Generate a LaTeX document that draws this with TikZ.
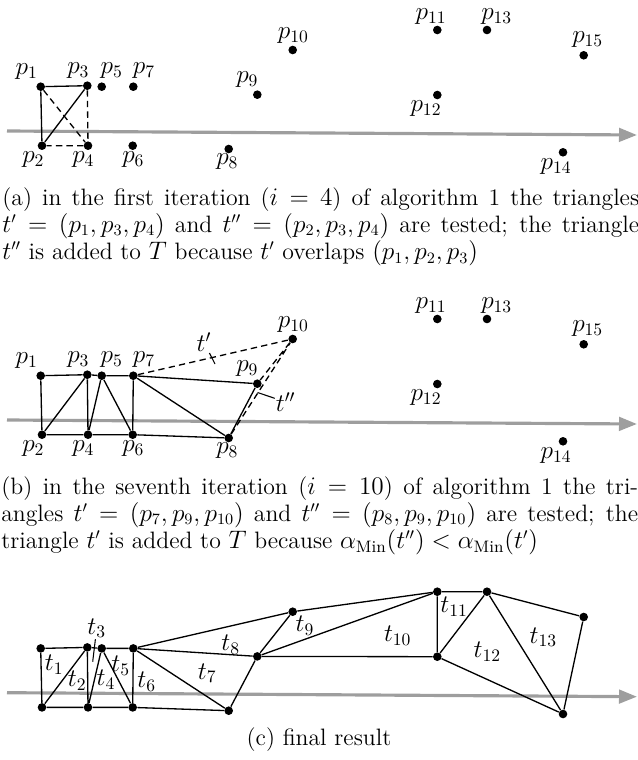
\documentclass[tikz,border=0pt]{standalone}
\usepackage{amsmath,amssymb}
\usepackage{tikz}
\usetikzlibrary{arrows.meta}

% point coordinates (pixels of the first panel)
\def\ptcoords{1/40.7/86.7, 2/42/145.7, 3/87.3/85.7, 4/88/145.7, 5/101.7/86.7,
  6/132.7/145.7, 7/133.3/86.7, 8/228.7/149, 9/257.3/94.7, 10/292.7/50,
  11/437.3/30, 12/437.3/95, 13/487/30, 14/563/152.3, 15/583.7/55.3}
% label offsets
\def\lbloffsets{1/-14/-15, 2/-8.7/14.3, 3/-9/-15, 4/-4.7/14.3, 5/10/-16,
  6/0.6/14.3, 7/10.7/-16, 8/-1.4/12.7, 9/-10/-14.7, 10/0.6/-14,
  11/-6.3/-13.3, 12/-11.3/13.3, 13/9.7/-13.3, 14/-7/14.4, 15/4/-16}

\newcommand{\pointset}[1]{%
  \foreach \i/\px/\py in \ptcoords
    \node[pt] (#1\i) at (\px,\py) {};
}
\newcommand{\pointlabels}[1]{%
  \foreach \i/\dx/\dy in \lbloffsets
    \node[plabel] (#1l\i) at ([shift={(\dx,\dy)}]#1\i) {$p_{\i}$};
}

\begin{document}
\begin{tikzpicture}[
  x=0.02cm, y=-0.02cm,
  pt/.style={circle, fill=black, inner sep=0pt, minimum size=0.172cm},
  plabel/.style={inner sep=0.5pt, font=\fontsize{14.5}{17}\selectfont},
  edge/.style={line width=0.75pt, black},
  dashedge/.style={line width=0.75pt, black, dash pattern=on 3.6pt off 2.4pt},
  sweep/.style={line width=1.8pt, black!38,
                -{Triangle[length=0.36cm, width=0.27cm]}},
  pinline/.style={line width=0.6pt, black},
  capt/.style={inner sep=0pt, anchor=base west, font=\fontsize{13.5}{13.8}\selectfont}
]
\useasboundingbox (0,0) rectangle (637,760);

% ===== (a) first iteration =====
\begin{scope}
  \coordinate (aL) at (7,131);
  \coordinate (aR) at (637,135);
  \draw[sweep] (aL) -- (aR);
  \pointset{a}
  \pointlabels{a}
  \draw[edge] (a1) -- (a3) -- (a2) -- (a1);
  \draw[dashedge] (a1) -- (a4) (a3) -- (a4) -- (a2);
\end{scope}
\node[capt] (capa) at (2,205.5) {\parbox[t]{12.74cm}{(a) in the first iteration
  ($i=4$) of algorithm 1 the triangles\linebreak $t'=(p_1,p_3,p_4)$ and
  $t''=(p_2,p_3,p_4)$ are tested; the triangle\linebreak $t''$ is added to $T$
  because $t'$ overlaps $(p_1,p_2,p_3)$}};

% ===== (b) seventh iteration =====
\begin{scope}[shift={(0,289)}]
  \coordinate (bL) at (7,131);
  \coordinate (bR) at (637,135);
  \draw[sweep] (bL) -- (bR);
  \pointset{b}
  \pointlabels{b}
  \draw[edge] (b1) -- (b3) -- (b5) -- (b7) -- (b9) -- (b8) -- (b6) -- (b4)
    -- (b2) -- (b1);
  \draw[edge] (b2) -- (b3) -- (b4) -- (b5) -- (b6) -- (b7) -- (b8);
  \draw[dashedge] (b7) -- (b10) -- (b9) (b8) -- (b10);
  \node[plabel] (tp) at (204,53.3) {$t'$};
  \node[plabel] (tpp) at (285.7,113) {$t''$};
  \coordinate (tptip) at (215,75);
  \coordinate (tpptip) at (257.5,103.5);
  \draw[pinline] (tp) -- (tptip);
  \draw[pinline] (tpp) -- (tpptip);
\end{scope}
\node[capt] (capb) at (1,494.5) {\parbox[t]{12.74cm}{(b) in the seventh
  iteration ($i=10$) of algorithm 1 the tri-\linebreak angles
  $t'=(p_7,p_9,p_{10})$ and $t''=(p_8,p_9,p_{10})$ are tested; the\linebreak
  triangle $t'$ is added to $T$ because
  $\alpha_{\text{Min}}(t'')<\alpha_{\text{Min}}(t')$}};

% ===== (c) final result =====
\begin{scope}[shift={(0,561.7)}]
  \coordinate (cL) at (7,131);
  \coordinate (cR) at (637,135);
  \draw[sweep] (cL) -- (cR);
  \pointset{c}
  \draw[edge] (c1) -- (c3) -- (c5) -- (c7) -- (c10) -- (c11) -- (c13)
    -- (c15) -- (c14) -- (c12) -- (c9) -- (c8) -- (c6) -- (c4) -- (c2) -- (c1);
  \draw[edge] (c2) -- (c3) -- (c4) -- (c5) -- (c6) -- (c7) -- (c8);
  \draw[edge] (c7) -- (c9) -- (c10) (c9) -- (c11) -- (c12) -- (c13) -- (c14);
  \foreach \i/\px/\py in {1/54.3/103.3, 2/77.3/119, 3/96.7/66.6, 4/106/118.3,
      5/120.7/104.3, 6/146.7/120, 7/207.3/111.6, 8/230.7/83.3, 9/305/64.3,
      10/397.7/74.3, 11/454/45, 12/487.3/90, 13/543.3/75.6}
    \node[plabel] (t\i) at (\px,\py) {$t_{\i}$};
  \coordinate (t3tip) at (92.7,100);
  \draw[pinline] (t3) -- (t3tip);
\end{scope}
\node[inner sep=0pt, anchor=base, font=\fontsize{13.5}{15}\selectfont]
  (capc) at (319,745) {(c) final result};

\end{tikzpicture}
\end{document}
